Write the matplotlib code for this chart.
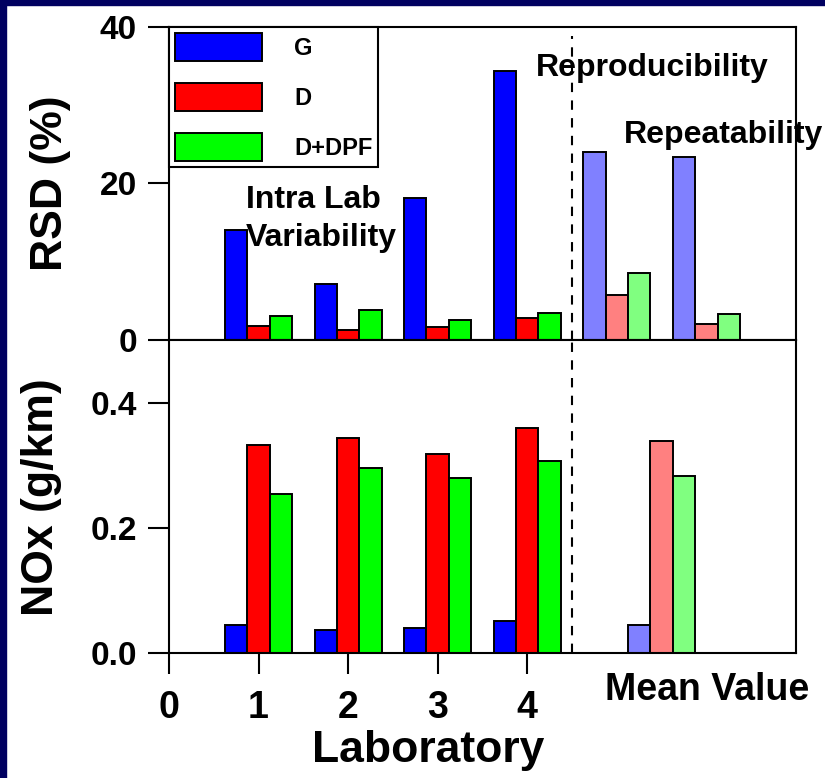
# -*- coding: utf-8 -*-
"""RSD y NOx por laboratorio (G, D, D+DPF)."""
import matplotlib
matplotlib.use('Agg')
import matplotlib.pyplot as plt
from matplotlib.patches import Rectangle

plt.rcParams['font.family'] = ['Liberation Sans', 'DejaVu Sans']
plt.rcParams['font.weight'] = 'bold'

# Datos
series = ['G', 'D', 'D+DPF']
labs = [1, 2, 3, 4]
rsd_lab = {'G': [14.0, 7.2, 18.2, 34.4],
           'D': [1.8, 1.3, 1.6, 2.8],
           'D+DPF': [3.1, 3.8, 2.6, 3.4]}
rsd_repro = [24.0, 5.7, 8.6]    # G, D, D+DPF
rsd_repeat = [23.4, 2.1, 3.3]
nox_lab = {'G': [0.045, 0.037, 0.040, 0.051],
           'D': [0.333, 0.343, 0.318, 0.359],
           'D+DPF': [0.254, 0.295, 0.279, 0.306]}
nox_mean = [0.044, 0.339, 0.283]

colores = {'G': '#0000ff', 'D': '#ff0000', 'D+DPF': '#00ff00'}
claros = ['#8080ff', '#ff8080', '#80ff80']
ANCHO = 0.25
desp = [-ANCHO, 0.0, ANCHO]

fig = plt.figure(figsize=(8.25, 7.78), dpi=100, facecolor='white')
# borde azul oscuro arriba e izquierda
fig.patches.append(Rectangle((0, 0), 6 / 825, 1, transform=fig.transFigure,
                             color='#000060', zorder=0))
fig.patches.append(Rectangle((0, 1 - 5 / 778), 1, 5 / 778, transform=fig.transFigure,
                             color='#000060', zorder=0))

ax1 = fig.add_axes([0.2048, 0.5630, 0.7600, 0.4023])
ax2 = fig.add_axes([0.2048, 0.1607, 0.7600, 0.4023])

kw = dict(width=ANCHO, edgecolor='black', linewidth=1.4)

# panel superior: RSD
for s, d in zip(series, desp):
    ax1.bar([x + d for x in labs], rsd_lab[s], color=colores[s], label=s, **kw)
ax1.bar([5 + d for d in desp], rsd_repro, color=claros, **kw)
ax1.bar([6 + d for d in desp], rsd_repeat, color=claros, **kw)
ax1.axvline(4.5, ymax=0.97, color='black', lw=1.5, ls=(0, (4.5, 4)))

# panel inferior: NOx
for s, d in zip(series, desp):
    ax2.bar([x + d for x in labs], nox_lab[s], color=colores[s], **kw)
ax2.bar([5.5 + d for d in desp], nox_mean, color=claros, **kw)
ax2.axvline(4.5, color='black', lw=1.5, ls=(0, (4.5, 4)))

for ax in (ax1, ax2):
    ax.set_xlim(0, 7)
    for sp in ax.spines.values():
        sp.set_linewidth(1.5)
    ax.tick_params(axis='y', direction='out', length=15, width=1.5,
                   labelsize=24, pad=8)

ax1.set_ylim(0, 40)
ax1.set_yticks([0, 20, 40])
ax1.tick_params(axis='x', bottom=False, labelbottom=False)

ax2.set_ylim(0, 0.5)
ax2.set_yticks([0.0, 0.2, 0.4])
ax2.set_yticklabels(['0.0', '0.2', '0.4'])
ax2.set_xticks([0, 1, 2, 3, 4])
ax2.tick_params(axis='x', direction='out', length=15, width=1.5,
                labelsize=27, pad=12)

leg = ax1.legend(loc='upper left', borderaxespad=0, fontsize=17, frameon=True,
                 fancybox=False, framealpha=1, edgecolor='black',
                 handlelength=3.7, handleheight=1.45, labelspacing=0.93,
                 handletextpad=1.35, borderpad=0.25)
leg.get_frame().set_linewidth(1.5)
for t in leg.get_texts():
    t.set_fontweight('bold')

ax1.text(0.86, 16.9, 'Intra Lab', fontsize=23, fontweight='bold', va='baseline')
ax1.text(0.86, 12.0, 'Variability', fontsize=23, fontweight='bold', va='baseline')
ax1.text(4.10, 33.8, 'Reproducibility', fontsize=23, fontweight='bold', va='baseline')
ax1.text(5.08, 25.2, 'Repeatability', fontsize=23, fontweight='bold', va='baseline')
ax2.text(4.87, -0.075, 'Mean Value', fontsize=27, fontweight='bold', va='baseline')

fig.text(0.519, 0.021, 'Laboratory', fontsize=32, fontweight='bold',
         ha='center', va='baseline')
fig.text(0.061, 0.7648, 'RSD (%)', fontsize=32, fontweight='bold',
         rotation=90, ha='center', va='center')
fig.text(0.050, 0.361, 'NOx (g/km)', fontsize=32, fontweight='bold',
         rotation=90, ha='center', va='center')

fig.savefig('out.png', dpi=100, facecolor=fig.get_facecolor())
